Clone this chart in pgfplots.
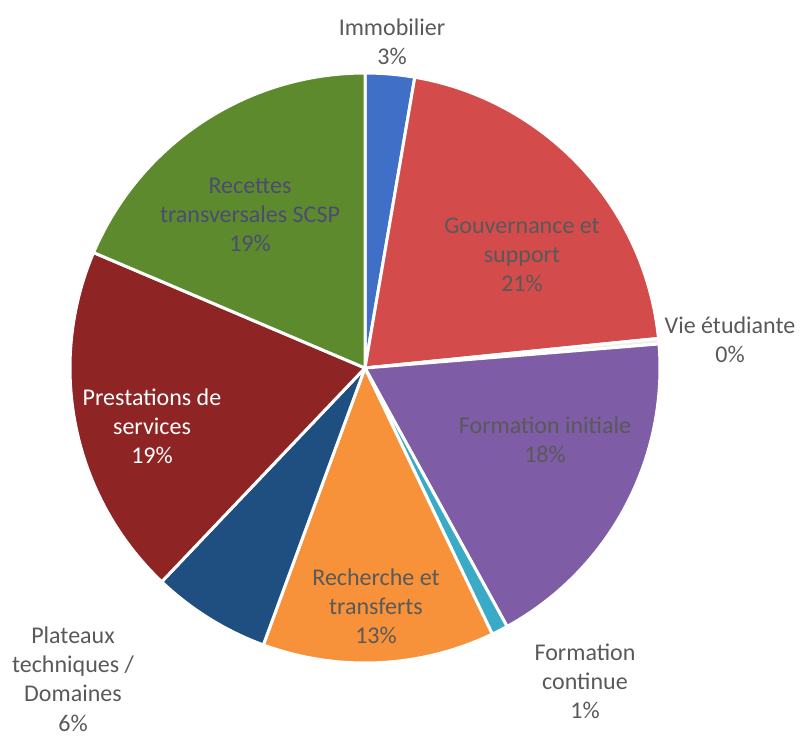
\documentclass[border=0pt]{standalone}
\usepackage{fontspec}
\setmainfont{Carlito}
\usepackage{pgfplots}
\usepackage{pgfplotstable}
\pgfplotsset{compat=1.18}

\definecolor{pie0}{HTML}{3F6FC6}
\definecolor{pie1}{HTML}{D34B4B}
\definecolor{pie2}{HTML}{EEF2E6}
\definecolor{pie3}{HTML}{7E5CA6}
\definecolor{pie4}{HTML}{3AABC6}
\definecolor{pie5}{HTML}{F7923A}
\definecolor{pie6}{HTML}{1F4F80}
\definecolor{pie7}{HTML}{8E2424}
\definecolor{pie8}{HTML}{5E8A2E}
\definecolor{lbl}{HTML}{595959}

% share (%) clockwise from 12 o'clock
\pgfplotstableread{
idx value
0 2.7
1 20.7
2 0.3
3 18.3
4 0.9
5 12.7
6 6.5
7 19.3
8 18.6
}\piedata

\def\pieslices{}
\xdef\piecum{0}
\foreach \i in {0,...,8}{%
  \pgfplotstablegetelem{\i}{value}\of\piedata
  \let\v\pgfplotsretval
  \pgfmathsetmacro\sa{90-3.6*\piecum}%
  \pgfmathsetmacro\newcum{\piecum+\v}%
  \pgfmathsetmacro\ea{90-3.6*\newcum}%
  \xdef\pieslices{\unexpanded\expandafter{\pieslices}%
    \noexpand\fill[fill=pie\i, draw=white, line width=1.5pt, line join=round]
    (axis cs:365,368) -- ++(\sa:147.5pt) arc[start angle=\sa, end angle=\ea, radius=147.5pt] -- cycle;}%
  \xdef\piecum{\newcum}%
}

\begin{document}
\begin{tikzpicture}
\begin{axis}[
  hide axis, scale only axis, clip=false,
  x=0.5pt, y=0.5pt,
  xmin=0, xmax=800, ymin=0, ymax=736,
  y dir=reverse,
]
\pieslices
\tikzset{lab/.style={align=center, font=\fontsize{12}{14.6}\selectfont, text=lbl, inner sep=0pt}}
\node[lab] at (axis cs:392,42) {Immobilier\\3\%};
\node[lab] at (axis cs:522,255) {Gouvernance et\\support\\21\%};
\node[lab] at (axis cs:730,340) {Vie étudiante\\0\%};
\node[lab] at (axis cs:545,440) {Formation initiale\\18\%};
\node[lab] at (axis cs:585,681) {Formation\\continue\\1\%};
\node[lab] at (axis cs:376,606) {Recherche et\\transferts\\13\%};
\node[lab] at (axis cs:73,679) {Plateaux\\techniques /\\Domaines\\6\%};
\node[lab, text=white] at (axis cs:152,426) {Prestations de\\services\\19\%};
\node[lab, text=lbl!85!blue] at (axis cs:250,215) {Recettes\\transversales SCSP\\19\%};
\end{axis}
\pgfresetboundingbox
\path (current axis.south west) rectangle (current axis.north east);
\end{tikzpicture}
\end{document}
